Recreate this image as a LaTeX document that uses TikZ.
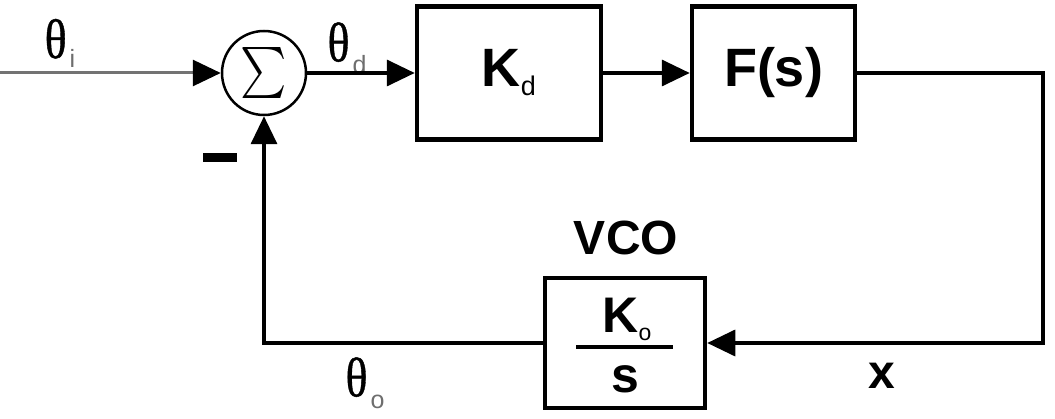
\documentclass[tikz,border=0pt]{standalone}
\usepackage{fontspec}
\setsansfont{Liberation Sans}
\newfontfamily\grkfont[FakeBold=0.8]{Liberation Serif}
\usepackage{graphicx}
\usetikzlibrary{arrows.meta}
\definecolor{ink}{RGB}{0,0,0}
\definecolor{fadeink}{RGB}{110,110,110}
\newcommand{\thsub}[2]{{\grkfont\fontsize{56}{56}\selectfont\scalebox{0.82}[1]{θ}}\kern3pt\raisebox{-#2pt}{\fontsize{25}{25}\selectfont\sffamily\color{fadeink}#1}}
\newcommand{\bigsf}[1]{\fontsize{#1}{#1}\selectfont\sffamily\bfseries}

\begin{document}
\begin{tikzpicture}[x=1pt,y=-1pt,
  blk/.style={draw=ink,line width=4.5pt,inner sep=0pt,minimum height=133pt,minimum width=#1},
  sumc/.style={draw=ink,circle,line width=2.5pt,inner sep=0pt,minimum size=84pt},
  sig/.style={-{Triangle[length=28pt,width=26pt]},line width=3.5pt,ink},
  lbl/.style={inner sep=0pt}]
  \useasboundingbox (0,0) rectangle (1055,419);
  \coordinate (in) at (0,73);
  \coordinate (corner) at (1043,73);
  \node[sumc] (sum) at (264,73) {\scalebox{4.4}[5.1]{$\sum$}};
  \node[blk=184pt] (kd) at (509,73) {\bigsf{54}K\raisebox{-9pt}{\fontsize{27}{27}\selectfont\mdseries d}};
  \node[blk=163pt] (fs) at (773.5,73) {\bigsf{54}F(s)};
  \node[blk=160pt,minimum height=130pt] (vco) at (625,343) {};
  \node[lbl,anchor=base] (ko) at (627,333) {\bigsf{50}K\raisebox{-8pt}{\fontsize{23}{23}\selectfont\mdseries o}};
  \node[lbl,anchor=base] (den) at (625,393) {\bigsf{50}s};
  \draw[line width=4pt,ink] (576,347) -- (673,347);
  \node[lbl] (vcolbl) at (626,238) {\bigsf{48}VCO};
  \node[lbl] (thi) at (60,43) {\thsub{i}{9}};
  \node[lbl] (thd) at (347,48) {\thsub{d}{12}};
  \node[lbl] (tho) at (365,383) {\thsub{o}{12}};
  \node[lbl] (xlbl) at (882,376) {\bigsf{48}x};
  \node[lbl] (minus) at (220,157.5) {\rule{34pt}{9pt}};
  % forward path
  \draw[-{Triangle[length=28pt,width=26pt,color=ink]},line width=3pt,black!55] (in) -- (sum.west);
  \draw[sig] (sum) -- (kd);
  \draw[sig] (kd) -- (fs);
  % feedback through the VCO
  \draw[sig] (fs.east) -- (corner) |- (vco.east);
  \draw[sig] (vco.west) -| (sum.south);
\end{tikzpicture}
\end{document}
